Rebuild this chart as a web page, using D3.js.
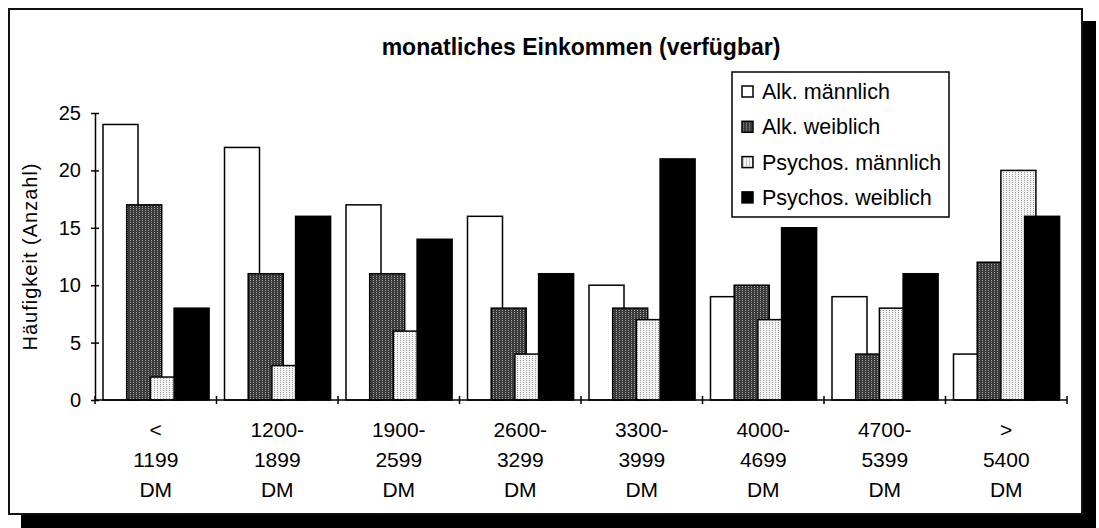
<!DOCTYPE html>
<html>
<head>
  <meta charset="utf-8">
  <title>monatliches Einkommen</title>
  <script src="https://cdn.jsdelivr.net/npm/d3@7"></script>
  <style>
    body { margin: 0; background: #fff; }
    text { font-family: "Liberation Sans", Arial, sans-serif; fill: #000; }
  </style>
</head>
<body>
  <div id="chart"></div>
  <script>
    // categories and values
    const categories = [
      ["<", "1199", "DM"],
      ["1200-", "1899", "DM"],
      ["1900-", "2599", "DM"],
      ["2600-", "3299", "DM"],
      ["3300-", "3999", "DM"],
      ["4000-", "4699", "DM"],
      ["4700-", "5399", "DM"],
      [">", "5400", "DM"]
    ];
    const seriesNames = ["Alk. männlich", "Alk. weiblich", "Psychos. männlich", "Psychos. weiblich"];
    const alkMaennlich = [24, 22, 17, 16, 10, 9, 9, 4];
    const alkWeiblich = [17, 11, 11, 8, 8, 10, 4, 12];
    const psyMaennlich = [2, 3, 6, 4, 7, 7, 8, 20];
    const psyWeiblich = [8, 16, 14, 11, 21, 15, 11, 16];
    const yTicks = [0, 5, 10, 15, 20, 25];

    const series = [alkMaennlich, alkWeiblich, psyMaennlich, psyWeiblich];
    const fills = ["#fff", "url(#darkDots)", "url(#lightDots)", "#000"];

    const width = 1099, height = 528;
    const plot = { left: 95, right: 1067, top: 113, bottom: 400 };

    const svg = d3.select("#chart").append("svg")
        .attr("width", width)
        .attr("height", height);

    // fill patterns
    const defs = svg.append("defs");
    const dark = defs.append("pattern").attr("id", "darkDots")
        .attr("patternUnits", "userSpaceOnUse").attr("width", 3).attr("height", 2);
    dark.append("rect").attr("width", 3).attr("height", 2).attr("fill", "#3a3a3a");
    dark.append("rect").attr("x", 1).attr("width", 1).attr("height", 1).attr("fill", "#a0a0a0");
    const light = defs.append("pattern").attr("id", "lightDots")
        .attr("patternUnits", "userSpaceOnUse").attr("width", 3).attr("height", 2);
    light.append("rect").attr("width", 3).attr("height", 2).attr("fill", "#f4f4f4");
    light.append("rect").attr("x", 1).attr("width", 1).attr("height", 1).attr("fill", "#9a9a9a");

    // shadow + frame
    svg.append("rect").attr("x", 21).attr("y", 21).attr("width", 1075).attr("height", 507).attr("fill", "#000");
    svg.append("rect").attr("x", 9).attr("y", 9).attr("width", 1073).attr("height", 505)
        .attr("fill", "#fff").attr("stroke", "#111").attr("stroke-width", 2);

    // scales
    const x = d3.scaleBand()
        .domain(d3.range(categories.length))
        .range([plot.left, plot.right]);
    const y = d3.scaleLinear()
        .domain([0, 25])
        .range([plot.bottom, plot.top]);

    const barW = 35, barStep = 23.7, groupOffset = 8;

    // bars, later series drawn on top
    series.forEach((vals, s) => {
      svg.append("g").selectAll("rect")
        .data(vals)
        .join("rect")
          .attr("x", (d, i) => x(i) + groupOffset + s * barStep)
          .attr("y", d => y(d))
          .attr("width", barW)
          .attr("height", d => y(0) - y(d))
          .attr("fill", fills[s])
          .attr("stroke", "#000")
          .attr("stroke-width", 1.5);
    });

    // y axis
    const yAxis = svg.append("g")
        .attr("transform", `translate(${plot.left},0)`)
        .call(d3.axisLeft(y).tickValues(yTicks).tickSize(0).tickPadding(14));
    yAxis.select(".domain").attr("stroke", "#000").attr("stroke-width", 1.5);
    yAxis.selectAll("text").attr("font-size", 20).attr("font-family", "Liberation Sans, Arial, sans-serif");
    yAxis.selectAll(".tick").append("line")
        .attr("x1", -4).attr("x2", 4).attr("stroke", "#000").attr("stroke-width", 1.5);

    // x axis
    svg.append("line")
        .attr("x1", plot.left).attr("x2", plot.right)
        .attr("y1", y(0)).attr("y2", y(0))
        .attr("stroke", "#000").attr("stroke-width", 1.5);
    const edges = d3.range(categories.length + 1).map(i => i < categories.length ? x(i) : x(i - 1) + x.bandwidth());
    svg.append("g").selectAll("line")
      .data(edges)
      .join("line")
        .attr("x1", d => d).attr("x2", d => d)
        .attr("y1", y(0) - 4).attr("y2", y(0) + 4)
        .attr("stroke", "#000").attr("stroke-width", 1.5);

    const catLabels = svg.append("g").selectAll("text")
      .data(categories)
      .join("text")
        .attr("text-anchor", "middle")
        .attr("font-size", 21);
    catLabels.selectAll("tspan")
      .data((d, i) => d.map(line => ({ line, i })))
      .join("tspan")
        .attr("x", d => x(d.i) + x.bandwidth() / 2)
        .attr("y", (d, k) => 437 + k * 30)
        .text(d => d.line);

    // y title
    svg.append("text")
        .attr("transform", `translate(37,${(plot.top + plot.bottom) / 2}) rotate(-90)`)
        .attr("text-anchor", "middle")
        .attr("font-size", 20)
        .attr("letter-spacing", 1)
        .text("Häufigkeit (Anzahl)");

    // title
    svg.append("text")
        .attr("x", 581).attr("y", 55)
        .attr("text-anchor", "middle")
        .attr("font-size", 23)
        .attr("font-weight", "bold")
        .text("monatliches Einkommen (verfügbar)");

    // legend
    const legend = svg.append("g").attr("transform", "translate(732,72)");
    legend.append("rect").attr("width", 217).attr("height", 145)
        .attr("fill", "#fff").attr("stroke", "#000").attr("stroke-width", 1.5);
    const item = legend.selectAll("g.item")
      .data(seriesNames)
      .join("g")
        .attr("class", "item")
        .attr("transform", (d, i) => `translate(10,${14 + i * 35.3})`);
    item.append("rect")
        .attr("width", 11).attr("height", 11)
        .attr("fill", (d, i) => fills[i])
        .attr("stroke", "#000").attr("stroke-width", 1.5);
    item.append("text")
        .attr("x", 20).attr("y", 13)
        .attr("font-size", 21.5)
        .text(d => d);
  </script>
</body>
</html>
